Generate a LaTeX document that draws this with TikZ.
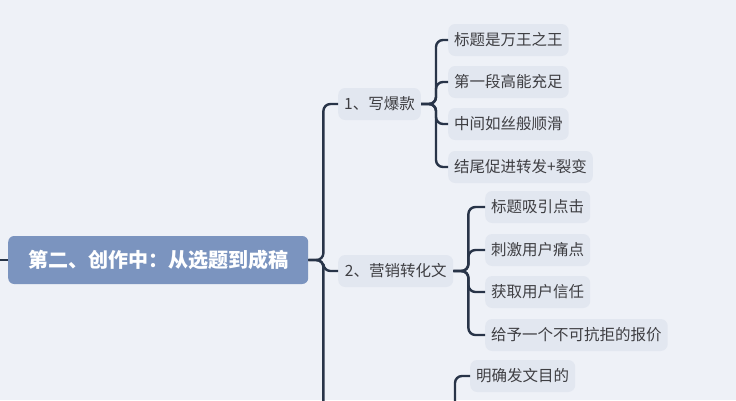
\documentclass[tikz,border=0pt]{standalone}
\usepackage{fontspec}
\newfontfamily\cjk{Noto Sans CJK SC}
\usetikzlibrary{positioning}
\definecolor{bgcol}{RGB}{238,241,247}
\definecolor{rootcol}{RGB}{123,148,191}
\definecolor{leafcol}{RGB}{226,231,240}
\definecolor{linecol}{RGB}{40,52,72}
\definecolor{txtcol}{RGB}{62,62,66}
\tikzset{
  rootbox/.style={fill=rootcol, rounded corners=6pt, text=white, font=\cjk\bfseries\fontsize{20}{24}\selectfont,
    minimum height=48pt, minimum width=300pt, inner xsep=18pt, anchor=west},
  topicbox/.style={fill=leafcol, rounded corners=7pt, text=txtcol, font=\cjk\fontsize{15.5}{18}\selectfont,
    minimum height=32pt, inner xsep=6pt, anchor=west},
  leafbox/.style={topicbox},
  link/.style={draw=linecol, line width=2.4pt, rounded corners=7pt},
}
\begin{document}
\begin{tikzpicture}[x=1pt, y=-1pt]
  \fill[bgcol] (0,0) rectangle (736,400);
  \useasboundingbox (0,0) rectangle (736,400);
  \clip (0,0) rectangle (736,400);

  % root and topics
  \node[rootbox] (root) at (8,260) {第二、创作中：从选题到成稿};
  \coordinate (pre) at (-10,260);
  \node[topicbox, minimum width=80pt] (t1) at (338,104) {1、写爆款};
  \node[topicbox, minimum width=115pt] (t2) at (338,271) {2、营销转化文};
  \coordinate (t3) at (338,460);

  % leaves of topic 1
  \node[leafbox] (a1) at (448,40) {标题是万王之王};
  \node[leafbox] (a2) at (448,82) {第一段高能充足};
  \node[leafbox] (a3) at (448,124) {中间如丝般顺滑};
  \node[leafbox] (a4) at (448,167) {结尾促进转发+裂变};

  % leaves of topic 2
  \node[leafbox] (b1) at (485,207) {标题吸引点击};
  \node[leafbox] (b2) at (485,250) {刺激用户痛点};
  \node[leafbox] (b3) at (485,292) {获取用户信任};
  \node[leafbox] (b4) at (485,335) {给予一个不可抗拒的报价};

  % leaves of topic 3
  \coordinate (t3e) at (440,460);
  \node[leafbox] (c1) at (470,376) {明确发文目的};
  \coordinate (c2) at (470,430);

  % connectors
  \draw[link] (pre) -- (root.west);
  \foreach \t in {t1,t2,t3}
    \draw[link] (root.east) -- ++(15,0) |- (\t.west);
  \foreach \a in {a1,a2,a3,a4}
    \draw[link] (t1.east) -- ++(15,0) |- (\a.west);
  \foreach \b in {b1,b2,b3,b4}
    \draw[link] (t2.east) -- ++(15,0) |- (\b.west);
  \foreach \c in {c1,c2}
    \draw[link] (t3e) -- ++(15,0) |- (\c.west);
\end{tikzpicture}
\end{document}
